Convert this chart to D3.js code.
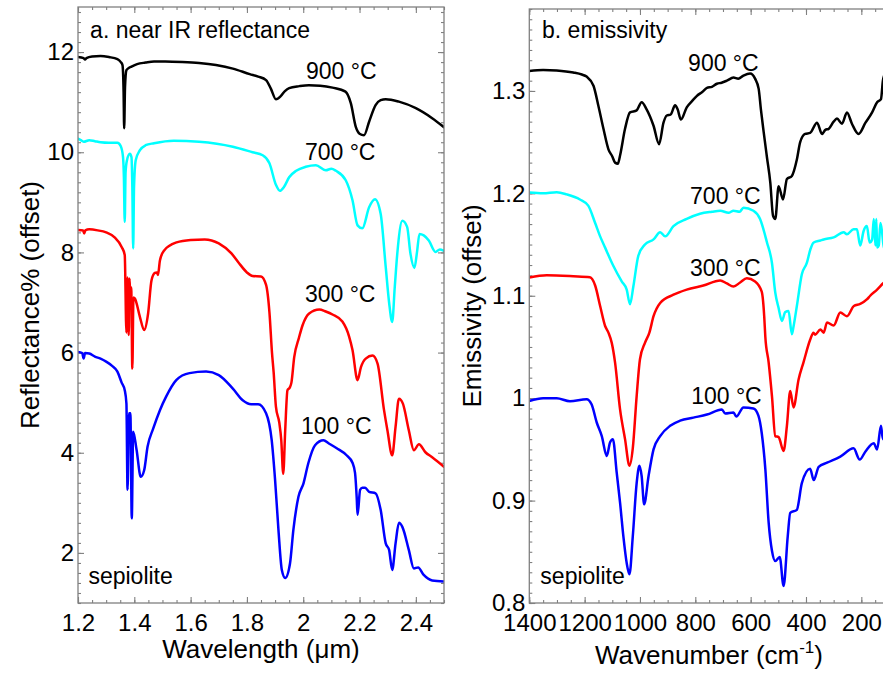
<!DOCTYPE html>
<html><head><meta charset="utf-8">
<script src="https://cdn.jsdelivr.net/npm/d3@7"></script>
<style>
html,body{margin:0;padding:0;background:#fff;}
svg{display:block;font-family:"Liberation Sans",Arial,Helvetica,sans-serif;}
</style></head>
<body><svg id="chart" width="883" height="674"></svg>
<script>
// ---------- DATA ----------
// Panel a: near-IR reflectance (offset), [wavelength µm, reflectance %]
const nir900 = [[1.2,11.9],[1.22,11.88],[1.225,11.85],[1.23,11.88],[1.25,11.91],[1.28,11.92],[1.31,11.9],[1.34,11.86],[1.352,11.8],[1.358,11.74],[1.362,11.2],[1.364,10.48],[1.367,11.3],[1.372,11.64],[1.38,11.68],[1.39,11.71],[1.41,11.76],[1.44,11.79],[1.47,11.81],[1.51,11.81],[1.57,11.8],[1.63,11.78],[1.69,11.74],[1.75,11.67],[1.81,11.56],[1.84,11.51],[1.868,11.44],[1.885,11.27],[1.903,11.06],[1.92,11.12],[1.935,11.22],[1.95,11.28],[1.986,11.32],[2.02,11.34],[2.06,11.33],[2.104,11.29],[2.15,11.21],[2.169,10.98],[2.187,10.5],[2.2,10.37],[2.216,10.34],[2.234,10.61],[2.257,10.94],[2.275,11.04],[2.293,11.06],[2.34,11.01],[2.4,10.88],[2.458,10.68],[2.5,10.5]];
const nir700 = [[1.2,10.27],[1.21,10.24],[1.22,10.21],[1.24,10.24],[1.26,10.22],[1.28,10.2],[1.31,10.19],[1.34,10.19],[1.352,10.12],[1.36,9.9],[1.363,9.5],[1.366,8.61],[1.369,9.6],[1.374,9.84],[1.384,9.97],[1.39,9.9],[1.393,9.3],[1.396,8.08],[1.399,9.3],[1.405,9.84],[1.42,10.04],[1.44,10.14],[1.47,10.18],[1.54,10.23],[1.63,10.21],[1.75,10.11],[1.82,10.0],[1.856,9.94],[1.88,9.78],[1.903,9.35],[1.917,9.23],[1.932,9.31],[1.95,9.5],[1.975,9.63],[2.009,9.71],[2.045,9.74],[2.08,9.64],[2.1,9.67],[2.116,9.63],[2.151,9.44],[2.175,9.04],[2.193,8.54],[2.21,8.48],[2.234,8.9],[2.255,9.06],[2.275,8.77],[2.293,7.71],[2.305,7.0],[2.316,6.61],[2.325,7.3],[2.334,7.97],[2.352,8.63],[2.369,8.51],[2.381,7.97],[2.395,7.69],[2.404,8.0],[2.413,8.37],[2.428,8.34],[2.446,8.24],[2.47,8.01],[2.485,8.06],[2.5,8.03]];
const nir300 = [[1.2,8.45],[1.218,8.44],[1.222,8.38],[1.226,8.44],[1.24,8.46],[1.27,8.44],[1.3,8.4],[1.33,8.3],[1.355,8.11],[1.366,7.95],[1.372,6.4],[1.376,7.5],[1.38,6.35],[1.383,7.48],[1.386,7.1],[1.389,7.3],[1.393,5.68],[1.397,7.1],[1.402,7.08],[1.42,6.71],[1.435,6.45],[1.449,6.78],[1.461,7.44],[1.473,7.59],[1.48,7.6],[1.484,7.55],[1.491,7.84],[1.506,8.04],[1.55,8.2],[1.6,8.25],[1.65,8.26],[1.7,8.18],[1.745,7.98],[1.77,7.8],[1.8,7.6],[1.82,7.53],[1.85,7.52],[1.868,7.35],[1.88,6.8],[1.889,6.0],[1.895,5.6],[1.903,4.92],[1.915,4.6],[1.922,4.25],[1.929,3.58],[1.936,4.45],[1.944,5.25],[1.952,5.3],[1.958,5.4],[1.968,5.91],[1.985,6.3],[1.998,6.55],[2.021,6.78],[2.057,6.86],[2.08,6.82],[2.104,6.76],[2.139,6.62],[2.163,6.32],[2.175,6.05],[2.193,5.45],[2.205,5.71],[2.222,5.88],[2.246,5.94],[2.264,5.78],[2.287,4.85],[2.299,4.45],[2.316,3.95],[2.328,4.52],[2.34,5.08],[2.354,4.98],[2.375,4.45],[2.393,4.05],[2.411,4.17],[2.434,4.01],[2.458,3.91],[2.5,3.72]];
const nir100 = [[1.2,6.01],[1.215,5.99],[1.22,5.88],[1.225,5.99],[1.24,5.98],[1.26,5.92],[1.28,5.88],[1.3,5.82],[1.32,5.74],[1.34,5.62],[1.355,5.4],[1.366,5.25],[1.372,4.98],[1.376,3.26],[1.381,4.79],[1.386,4.79],[1.391,2.69],[1.396,4.42],[1.408,4.06],[1.423,3.52],[1.435,3.65],[1.447,4.12],[1.467,4.48],[1.491,4.85],[1.513,5.12],[1.549,5.45],[1.596,5.59],[1.655,5.62],[1.7,5.55],[1.75,5.28],[1.785,5.05],[1.815,4.97],[1.84,4.97],[1.868,4.79],[1.888,4.25],[1.9,3.46],[1.912,2.46],[1.924,1.66],[1.936,1.5],[1.953,1.79],[1.965,2.46],[1.983,3.12],[2.001,3.39],[2.018,3.79],[2.042,4.15],[2.072,4.25],[2.09,4.19],[2.119,4.09],[2.154,3.95],[2.175,3.8],[2.184,3.6],[2.19,3.1],[2.193,2.76],[2.202,3.26],[2.21,3.3],[2.22,3.3],[2.234,3.22],[2.257,3.19],[2.275,2.86],[2.293,2.19],[2.305,2.06],[2.316,1.66],[2.328,2.19],[2.34,2.6],[2.352,2.52],[2.375,2.06],[2.393,1.69],[2.408,1.71],[2.428,1.56],[2.458,1.45],[2.5,1.43]];

// Panel b: emissivity (offset), [wavenumber cm-1, emissivity]
const tir900 = [[1400,1.3195],[1350,1.3205],[1301,1.32],[1241,1.318],[1210,1.316],[1193,1.314],[1168,1.305],[1150,1.285],[1132,1.263],[1114,1.243],[1100,1.236],[1090,1.23],[1080,1.229],[1072,1.237],[1054,1.263],[1036,1.279],[1012,1.281],[994,1.289],[976,1.282],[951,1.266],[931,1.248],[915,1.269],[903,1.276],[889,1.277],[873,1.286],[864,1.282],[852,1.272],[831,1.284],[812,1.29],[795,1.295],[775,1.299],[758,1.303],[740,1.304],[722,1.307],[705,1.308],[686,1.31],[662,1.313],[645,1.312],[626,1.315],[602,1.317],[584,1.312],[571,1.302],[563,1.282],[553,1.26],[541,1.235],[529,1.2105],[519,1.178],[511,1.175],[499,1.207],[483,1.194],[469,1.214],[451,1.217],[433,1.233],[421,1.25],[403,1.258],[385,1.259],[360,1.269],[342,1.258],[330,1.262],[318,1.263],[300,1.27],[288,1.273],[270,1.268],[252,1.279],[234,1.268],[210,1.258],[185,1.269],[161,1.279],[143,1.289],[129,1.292],[122,1.31],[110,1.32],[100,1.33]];
const tir700 = [[1400,1.2008],[1350,1.2],[1301,1.201],[1265,1.199],[1217,1.194],[1187,1.188],[1162,1.171],[1144,1.158],[1126,1.147],[1096,1.129],[1066,1.114],[1048,1.106],[1036,1.0917],[1024,1.109],[1006,1.139],[982,1.15],[951,1.155],[927,1.162],[909,1.158],[879,1.168],[831,1.175],[783,1.18],[740,1.182],[710,1.183],[680,1.181],[662,1.183],[640,1.182],[626,1.186],[590,1.183],[566,1.175],[541,1.152],[523,1.132],[511,1.103],[499,1.088],[487,1.0754],[475,1.084],[463,1.085],[451,1.0624],[445,1.07],[433,1.09],[415,1.121],[397,1.132],[384,1.1454],[372,1.152],[348,1.154],[336,1.155],[300,1.157],[264,1.162],[252,1.16],[228,1.165],[216,1.165],[204,1.149],[192,1.163],[180,1.168],[170,1.152],[161,1.155],[155,1.175],[149,1.149],[146,1.175],[143,1.147],[137,1.149],[131,1.171],[125,1.162],[118,1.146],[110,1.16],[100,1.155]];
const tir300 = [[1400,1.1178],[1337,1.12],[1241,1.119],[1181,1.118],[1162,1.11],[1144,1.09],[1126,1.0705],[1114,1.064],[1102,1.054],[1090,1.0347],[1072,0.989],[1054,0.96],[1038,0.934],[1026,0.951],[1012,1.002],[1000,1.038],[982,1.054],[966,1.064],[951,1.08],[927,1.093],[879,1.101],[831,1.106],[771,1.11],[710,1.115],[686,1.112],[662,1.109],[638,1.113],[614,1.117],[584,1.114],[560,1.104],[551,1.08],[547,1.06],[535,1.035],[523,1.002],[511,0.963],[499,0.962],[481,0.9485],[469,0.973],[457,1.007],[445,0.991],[427,1.018],[409,1.035],[385,1.057],[373,1.064],[367,1.062],[348,1.067],[336,1.064],[324,1.074],[300,1.071],[276,1.0836],[252,1.08],[227,1.09],[204,1.092],[179,1.0966],[168,1.1],[143,1.106],[122,1.112],[110,1.115],[100,1.12]];
const tir100 = [[1400,0.9973],[1350,1.0],[1301,1.0],[1253,0.997],[1193,0.999],[1175,0.994],[1156,0.976],[1138,0.963],[1120,0.9436],[1108,0.957],[1098,0.96],[1084,0.927],[1072,0.898],[1060,0.865],[1048,0.839],[1038,0.828],[1026,0.865],[1012,0.917],[1002,0.934],[994,0.924],[985,0.8964],[969,0.924],[951,0.95],[927,0.963],[891,0.973],[855,0.978],[807,0.981],[758,0.984],[704,0.989],[692,0.985],[662,0.986],[652,0.982],[626,0.991],[590,0.99],[572,0.983],[560,0.966],[547,0.931],[535,0.8787],[523,0.851],[511,0.841],[495,0.845],[481,0.8166],[466,0.865],[457,0.888],[433,0.891],[415,0.917],[385,0.931],[372,0.92],[354,0.933],[324,0.937],[276,0.943],[228,0.951],[206,0.94],[185,0.948],[155,0.956],[143,0.95],[129,0.973],[122,0.96],[110,0.965],[100,0.97]];

const seriesColors = ["#000000","#00ffff","#ff0000","#0000ff"];
const seriesLabels = ["900 °C","700 °C","300 °C","100 °C"];
const leftXTicks = [1.2,1.4,1.6,1.8,2.0,2.2,2.4];
const leftYTicks = [2,4,6,8,10,12];
const rightXTicks = [1400,1200,1000,800,600,400,200];
const rightYTicks = [0.8,0.9,1.0,1.1,1.2,1.3];

// ---------- DRAW ----------
const svg = d3.select("#chart");
const GRAY = "#808080";
const fmt = d3.format("~g");

function panel(opt){
  const g = svg.append("g");
  const x = opt.x, y = opt.y;
  const [x0,x1] = x.range(), [y0,y1] = y.range();
  const clipId = "clip"+opt.id;
  svg.append("defs").append("clipPath").attr("id",clipId)
    .append("rect").attr("x",Math.min(x0,x1)).attr("y",y1).attr("width",Math.abs(x1-x0)).attr("height",y0-y1);

  function styleAxis(sel){
    sel.select(".domain").remove();
    sel.selectAll(".tick line").attr("stroke",GRAY).attr("stroke-width",1.1);
    sel.selectAll("text").attr("fill","#000").style("font-size","24px").style("font-family",'"Liberation Sans",Arial,sans-serif');
  }
  g.append("g").attr("transform",`translate(0,${y0})`)
    .call(d3.axisBottom(x).tickValues(opt.xTicks).tickSize(-6).tickPadding(11).tickFormat(fmt)).call(styleAxis);
  g.append("g").attr("transform",`translate(0,${y0})`)
    .call(d3.axisBottom(x).tickValues(opt.xMinor).tickSize(-3).tickFormat("")).call(styleAxis);
  g.append("g").attr("transform",`translate(0,${y1})`)
    .call(d3.axisTop(x).tickValues(opt.xTicks).tickSize(-6).tickFormat("")).call(styleAxis);
  g.append("g").attr("transform",`translate(0,${y1})`)
    .call(d3.axisTop(x).tickValues(opt.xMinor).tickSize(-3).tickFormat("")).call(styleAxis);
  g.append("g").attr("transform",`translate(${x0},0)`)
    .call(d3.axisLeft(y).tickValues(opt.yTicks).tickSize(-6).tickPadding(4).tickFormat(fmt)).call(styleAxis);
  g.append("g").attr("transform",`translate(${x0},0)`)
    .call(d3.axisLeft(y).tickValues(opt.yMinor).tickSize(-3).tickFormat("")).call(styleAxis);
  g.append("g").attr("transform",`translate(${x1},0)`)
    .call(d3.axisRight(y).tickValues(opt.yTicks).tickSize(-6).tickFormat("")).call(styleAxis);
  g.append("g").attr("transform",`translate(${x1},0)`)
    .call(d3.axisRight(y).tickValues(opt.yMinor).tickSize(-3).tickFormat("")).call(styleAxis);

  const line = d3.line().x(d=>x(d[0])).y(d=>y(d[1])).curve(d3.curveMonotoneX);
  const lg = g.append("g").attr("clip-path",`url(#${clipId})`);
  opt.series.forEach((s,i)=>{
    lg.append("path").datum(s).attr("d",line)
      .attr("fill","none").attr("stroke",seriesColors[i]).attr("stroke-width",2.5)
      .attr("stroke-linejoin","round").attr("stroke-linecap","round");
  });
  g.append("rect").attr("x",Math.min(x0,x1)).attr("y",y1).attr("width",Math.abs(x1-x0)).attr("height",y0-y1)
    .attr("fill","none").attr("stroke",GRAY).attr("stroke-width",1.3);
  return g;
}

function range(a,b,step){const out=[];const n=Math.round((b-a)/step);for(let i=0;i<=n;i++)out.push(+(a+i*step).toFixed(6));return out;}

// Panel a
const xa = d3.scaleLinear().domain([1.2,2.5]).range([78,444]);
const ya = d3.scaleLinear().domain([1,12.9]).range([603,7]);
const ga = panel({id:"a",x:xa,y:ya,xTicks:leftXTicks,xMinor:range(1.2,2.5,0.05),yTicks:leftYTicks,yMinor:range(1,12.8,0.2),series:[nir900,nir700,nir300,nir100]});

// Panel b
const xb = d3.scaleLinear().domain([1400,100]).range([529.3,889]);
const yb = d3.scaleLinear().domain([0.8,1.38]).range([603,9]);
const gb = panel({id:"b",x:xb,y:yb,xTicks:rightXTicks,xMinor:range(100,1400,50),yTicks:rightYTicks,yMinor:range(0.8,1.38,0.01),series:[tir900,tir700,tir300,tir100]});

function txt(g,x,y,s,size,anchor){
  return g.append("text").attr("x",x).attr("y",y).attr("text-anchor",anchor||"start")
    .style("font-size",size+"px").attr("fill","#000").text(s);
}
txt(ga,xa(1.243),ya(12.29),"a. near IR reflectance",23);
const aLab = [[2.01,11.47],[2.006,9.84],[2.006,7.0],[1.992,4.37]];
aLab.forEach((p,i)=>txt(ga,xa(p[0]),ya(p[1]),seriesLabels[i],23));
txt(ga,xa(1.237),ya(1.38),"sepiolite",23);
txt(gb,xb(1354),yb(1.352),"b. emissivity",23);
const bLab = [[826,1.319],[819,1.19],[819,1.119],[815,0.994]];
bLab.forEach((p,i)=>txt(gb,xb(p[0]),yb(p[1]),seriesLabels[i],23));
txt(gb,xb(1360),yb(0.819),"sepiolite",23);

txt(svg,261,658,"Wavelength (\u03bcm)",26,"middle");
const t2 = svg.append("text").attr("x",709).attr("y",664).attr("text-anchor","middle").style("font-size","26px").attr("fill","#000");
t2.append("tspan").text("Wavenumber (cm");
t2.append("tspan").attr("dy",-11).style("font-size","17px").text("-1");
t2.append("tspan").attr("dy",11).text(")");
svg.append("text").attr("transform","translate(39,305) rotate(-90)").attr("text-anchor","middle")
  .style("font-size","26px").attr("fill","#000").text("Reflectance% (offset)");
svg.append("text").attr("transform","translate(481,306) rotate(-90)").attr("text-anchor","middle")
  .style("font-size","26px").attr("fill","#000").text("Emissivity (offset)");
</script></body></html>
